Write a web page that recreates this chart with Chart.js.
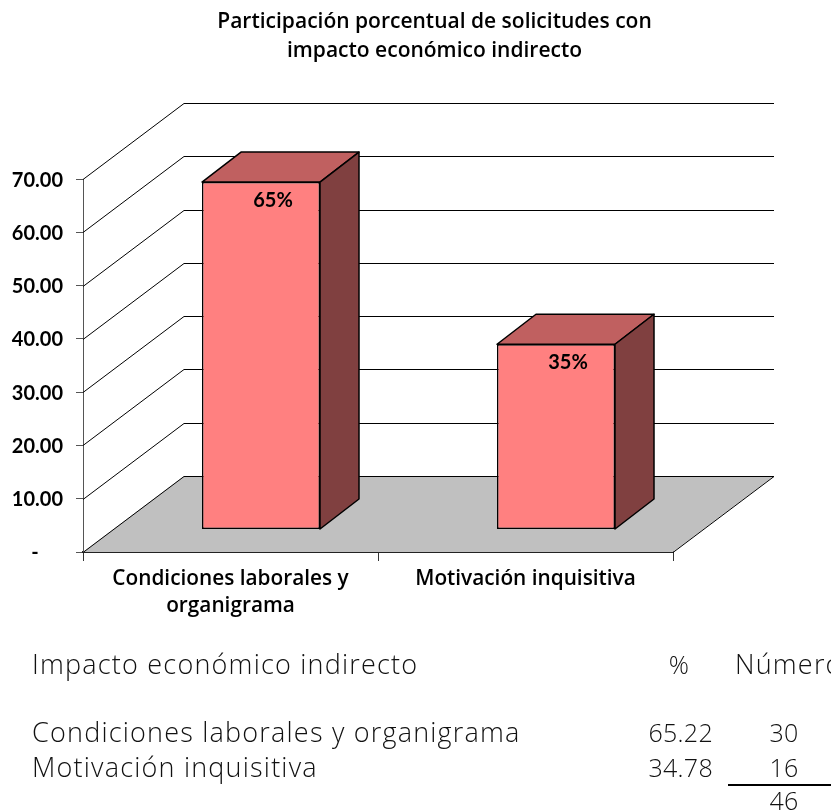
<!DOCTYPE html>
<html><head><meta charset="utf-8">
<script src="https://cdn.jsdelivr.net/npm/chart.js@4"></script>
<style>
html,body{margin:0;padding:0;background:#fff;overflow:hidden;width:831px;height:812px}
#wrap{position:relative;width:831px;height:812px;overflow:hidden}
canvas{position:absolute;left:0;top:0}
.t{position:absolute;font-family:"Open Sans",sans-serif;font-weight:300;font-size:27px;line-height:30px;color:#111;white-space:nowrap;letter-spacing:1.2px}
.n{letter-spacing:.3px;font-size:25px}
.rule{position:absolute;left:728px;top:784px;width:103px;height:2px;background:#000}
</style></head><body>
<div id="wrap"><canvas id="c" width="831" height="812"></canvas><div class="rule"></div></div>
<script>
const titleLines = ['Participación porcentual de solicitudes con','impacto económico indirecto'];
const categories = [['Condiciones laborales y','organigrama'],['Motivación inquisitiva']];
const percentValues = [65.22,34.78];
const percentLabels = ['65%','35%'];
const tableHeading = 'Impacto económico indirecto';
const tableColumns = ['%','Número'];
const tableNames = ['Condiciones laborales y organigrama','Motivación inquisitiva'];
const tableCounts = [30,16];
const tableTotal = 46;

const WALL = {dx:101, dy:-76};
const BAR = {dx:30.5, dy:-22.5, depthX:39, depthY:-30};
const plugin3d = {
  id:'plugin3d',
  afterLayout(chart){ const t=chart.titleBlock; if(t){t.left+=196;} },
  beforeDatasetsDraw(chart){
    const {ctx,scales:{x,y},chartArea:a}=chart;
    const y0=y.getPixelForValue(0);
    ctx.save();
    ctx.beginPath();
    ctx.moveTo(a.left,y0);ctx.lineTo(a.left+WALL.dx,y0+WALL.dy);
    ctx.lineTo(a.right+WALL.dx,y0+WALL.dy);ctx.lineTo(a.right,y0);ctx.closePath();
    ctx.fillStyle='#c0c0c0';ctx.fill();
    ctx.strokeStyle='#000';ctx.lineWidth=1;
    y.ticks.forEach(t=>{
      const p=Math.round(y.getPixelForValue(t.value))+.5;
      ctx.beginPath();ctx.moveTo(a.left,p);ctx.lineTo(a.left+WALL.dx,p+WALL.dy);
      ctx.lineTo(a.right+WALL.dx,p+WALL.dy);
      if(t.value===0){ctx.lineTo(a.right,p);}
      ctx.stroke();
    });
    ctx.restore();
  },
  beforeDatasetDraw(chart,args){
    const ctx=chart.ctx;
    ctx.save();ctx.translate(BAR.dx,BAR.dy);
    chart.getDatasetMeta(args.index).data.forEach(b=>{
      const l=b.x-b.width/2,r=b.x+b.width/2,t=b.y,bo=b.base;
      ctx.lineWidth=1.5;ctx.strokeStyle='#000';ctx.lineJoin='round';
      ctx.beginPath();ctx.moveTo(l,t);ctx.lineTo(l+BAR.depthX,t+BAR.depthY);
      ctx.lineTo(r+BAR.depthX,t+BAR.depthY);ctx.lineTo(r,t);ctx.closePath();
      ctx.fillStyle='#c06060';ctx.fill();ctx.stroke();
      ctx.beginPath();ctx.moveTo(r,t);ctx.lineTo(r+BAR.depthX,t+BAR.depthY);
      ctx.lineTo(r+BAR.depthX,bo+BAR.depthY);ctx.lineTo(r,bo);ctx.closePath();
      ctx.fillStyle='#804040';ctx.fill();ctx.stroke();
    });
  },
  afterDatasetDraw(chart,args){
    const ctx=chart.ctx;
    chart.getDatasetMeta(args.index).data.forEach((b,i)=>{
      ctx.fillStyle='#000';ctx.font='bold 20px Lato';ctx.textAlign='center';ctx.textBaseline='middle';
      ctx.fillText(percentLabels[i],b.x+12,b.y+18);
    });
    ctx.restore();
  }
};
new Chart(document.getElementById('c'),{
  type:'bar',
  data:{labels:categories,datasets:[{data:percentValues,backgroundColor:'#ff8080',borderColor:'#000',borderWidth:1.5,borderSkipped:false,barPercentage:.8,categoryPercentage:.5}]},
  plugins:[plugin3d],
  options:{
    responsive:false,animation:false,events:[],
    layout:{padding:{left:0,right:158,top:0,bottom:0}},
    plugins:{legend:{display:false},tooltip:{enabled:false},
      title:{display:true,text:titleLines,color:'#000',font:{family:'"Open Sans"',weight:'600',size:21,lineHeight:1.36},padding:{top:8,bottom:114}}},
    scales:{
      x:{afterFit(s){s.height=260;},
        grid:{drawOnChartArea:false,tickLength:9,color:'#333',tickColor:'#333'},
        border:{color:'#222',width:2},
        ticks:{color:'#000',padding:5,maxRotation:0,autoSkip:false,font:{family:'"Open Sans"',weight:'600',size:20.8,lineHeight:1.28}}},
      y:{min:0,max:70,afterFit(s){s.width=83;},
        grid:{drawOnChartArea:false,tickLength:7,color:'#555',tickColor:'#555'},
        border:{color:'#555',width:1},
        ticks:{stepSize:10,color:'#000',padding:13,labelOffset:1,font:{family:'Lato',weight:'bold',size:20},
          callback(v){return v===0?'-\u00a0\u00a0\u00a0\u00a0\u00a0':v.toFixed(2);}}}
    }
  }
});
const wrap=document.getElementById('wrap');
function put(txt,x,y,align,num){
  const d=document.createElement('div');d.className=num?'t n':'t';d.textContent=txt;d.style.top=(y-15)+'px';
  if(align==='r'){d.style.right=(831-x)+'px';}
  else if(align==='c'){d.style.left=x+'px';d.style.transform='translateX(-50%)';}
  else d.style.left=x+'px';
  wrap.appendChild(d);
}
put(tableHeading,32,664);put(tableColumns[0],679,664,'c',true);put(tableColumns[1],735,664);
tableNames.forEach((n,i)=>{
  const y=[732,767][i];
  put(n,32,y);put(percentValues[i].toFixed(2),713,y,'r',true);put(String(tableCounts[i]),784,y,'c',true);
});
put(String(tableTotal),784,800,'c',true);
</script></body></html>
